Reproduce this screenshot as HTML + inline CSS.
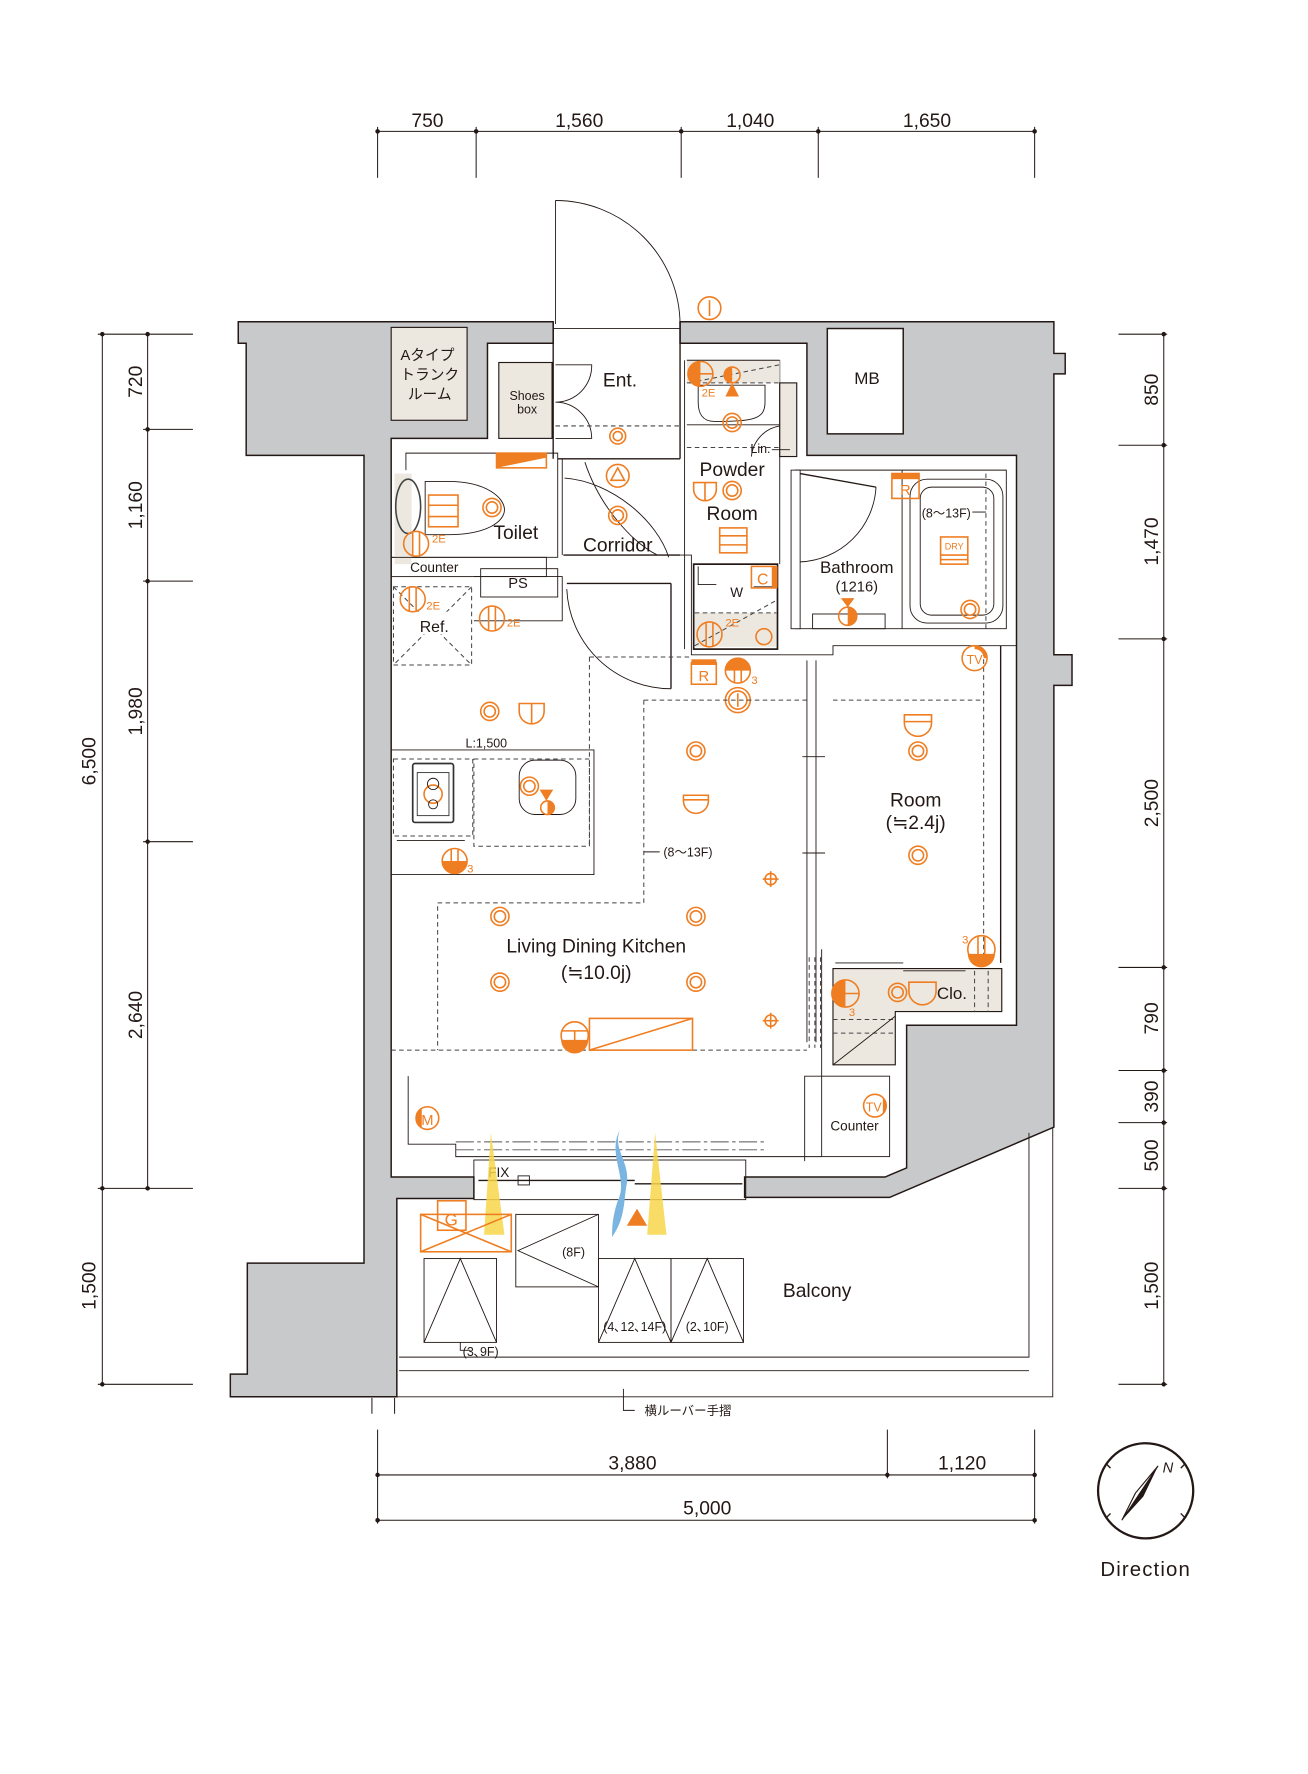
<!DOCTYPE html>
<html><head><meta charset="utf-8"><style>
html,body{margin:0;padding:0;background:#fff;}
svg{display:block;}
text{font-family:"Liberation Sans","Noto Sans CJK JP",sans-serif;fill:#231815;}
.o{fill:none;stroke:#ef7d22;stroke-width:1.4;}
.of{fill:#ef7d22;}
.ot{fill:#ef7d22;font-size:10px;}
.l{fill:none;stroke:#231815;stroke-width:1.2;}
.lt{fill:none;stroke:#231815;stroke-width:0.8;}
.d{fill:none;stroke:#444;stroke-width:0.9;stroke-dasharray:4 3;}
.g{fill:#c8c9ca;stroke:#231815;stroke-width:1.3;}
.b{fill:#ece8e0;stroke:#231815;stroke-width:1;}
</style></head><body>
<svg width="1308" height="1774" viewBox="0 0 1154 1566" xmlns="http://www.w3.org/2000/svg">
<g stroke="#231815" stroke-width="0.9" fill="none">
<line x1="333" y1="116" x2="913" y2="116"/>
<line x1="333" y1="112" x2="333" y2="157"/><line x1="420" y1="112" x2="420" y2="157"/>
<line x1="601" y1="112" x2="601" y2="157"/><line x1="722" y1="112" x2="722" y2="157"/>
<line x1="913" y1="112" x2="913" y2="157"/>
<line x1="90" y1="295" x2="90" y2="1222"/><line x1="130" y1="295" x2="130" y2="1049"/>
<line x1="86" y1="295" x2="170" y2="295"/><line x1="126" y1="379" x2="170" y2="379"/>
<line x1="126" y1="513" x2="170" y2="513"/><line x1="126" y1="743" x2="170" y2="743"/>
<line x1="86" y1="1049" x2="170" y2="1049"/><line x1="86" y1="1222" x2="170" y2="1222"/>
<line x1="1027" y1="295" x2="1027" y2="1222"/>
<line x1="987" y1="295" x2="1030" y2="295"/><line x1="987" y1="393" x2="1030" y2="393"/>
<line x1="987" y1="564" x2="1030" y2="564"/><line x1="987" y1="854" x2="1030" y2="854"/>
<line x1="987" y1="945" x2="1030" y2="945"/><line x1="987" y1="991" x2="1030" y2="991"/>
<line x1="987" y1="1049" x2="1030" y2="1049"/><line x1="987" y1="1222" x2="1030" y2="1222"/>
<line x1="333" y1="1302" x2="913" y2="1302"/><line x1="333" y1="1342" x2="913" y2="1342"/>
<line x1="333" y1="1262" x2="333" y2="1345"/><line x1="783" y1="1262" x2="783" y2="1305"/>
<line x1="913" y1="1262" x2="913" y2="1345"/>
<line x1="328" y1="1234" x2="328" y2="1248"/><line x1="348" y1="1234" x2="348" y2="1248"/>
</g>
<g fill="#231815">
<circle cx="333" cy="116" r="2"/><circle cx="420" cy="116" r="2"/><circle cx="601" cy="116" r="2"/><circle cx="722" cy="116" r="2"/><circle cx="913" cy="116" r="2"/>
<circle cx="90" cy="295" r="2"/><circle cx="90" cy="1049" r="2"/><circle cx="90" cy="1222" r="2"/>
<circle cx="130" cy="295" r="2"/><circle cx="130" cy="379" r="2"/><circle cx="130" cy="513" r="2"/><circle cx="130" cy="743" r="2"/><circle cx="130" cy="1049" r="2"/>
<circle cx="1027" cy="295" r="2"/><circle cx="1027" cy="393" r="2"/><circle cx="1027" cy="564" r="2"/><circle cx="1027" cy="854" r="2"/><circle cx="1027" cy="945" r="2"/><circle cx="1027" cy="991" r="2"/><circle cx="1027" cy="1049" r="2"/><circle cx="1027" cy="1222" r="2"/>
<circle cx="333" cy="1302" r="2"/><circle cx="783" cy="1302" r="2"/><circle cx="913" cy="1302" r="2"/><circle cx="333" cy="1342" r="2"/><circle cx="913" cy="1342" r="2"/>
</g>
<g font-size="17" text-anchor="middle">
<text x="377" y="112">750</text><text x="511" y="112">1,560</text><text x="662" y="112">1,040</text><text x="818" y="112">1,650</text>
<text x="558" y="1297">3,880</text><text x="849" y="1297">1,120</text><text x="624" y="1337">5,000</text>
<text transform="translate(84,672) rotate(-90)">6,500</text>
<text transform="translate(84,1135) rotate(-90)">1,500</text>
<text transform="translate(125,337) rotate(-90)">720</text>
<text transform="translate(125,446) rotate(-90)">1,160</text>
<text transform="translate(125,628) rotate(-90)">1,980</text>
<text transform="translate(125,896) rotate(-90)">2,640</text>
<text transform="translate(1022,344) rotate(-90)">850</text>
<text transform="translate(1022,478) rotate(-90)">1,470</text>
<text transform="translate(1022,709) rotate(-90)">2,500</text>
<text transform="translate(1022,899) rotate(-90)">790</text>
<text transform="translate(1022,968) rotate(-90)">390</text>
<text transform="translate(1022,1020) rotate(-90)">500</text>
<text transform="translate(1022,1135) rotate(-90)">1,500</text>
</g>

<!-- walls -->
<path class="g" d="M210,284 H488 V303 H430 V387 H345 V1039 H418 V1058 H350 V1233 H203 V1213 H218 V1115 H321 V402 H217 V303 H210 Z"/>
<path class="g" d="M600,284 H930 V312 H940 V330 H930 V578 H946 V605 H930 V995 L785,1057 H657 V1039 H781 L800,1031 V905 H897 V402 H712 V303 H600 Z"/>
<rect x="345" y="289" width="67" height="82" class="b"/>
<text x="377" y="318" font-size="13" text-anchor="middle">Aタイプ</text>
<text x="379" y="335" font-size="13" text-anchor="middle">トランク</text>
<text x="379" y="352" font-size="13" text-anchor="middle">ルーム</text>
<rect x="730" y="290" width="67" height="93" fill="#fff" stroke="#231815" stroke-width="1.3"/>
<text x="765" y="339" font-size="15" text-anchor="middle">MB</text>

<!-- Entrance -->
<line class="l" x1="488" y1="284" x2="488" y2="405"/><line class="l" x1="600" y1="284" x2="600" y2="405"/>
<line class="lt" x1="490" y1="177" x2="490" y2="286"/>
<path class="lt" d="M490,177 A110,110 0 0 1 600,287"/>
<line class="lt" x1="488" y1="290" x2="600" y2="290"/>
<rect x="440" y="320" width="47" height="67" class="b"/>
<text x="465" y="353" font-size="11" text-anchor="middle">Shoes</text>
<text x="465" y="365" font-size="11" text-anchor="middle">box</text>
<path class="lt" d="M490,322 H522 A32,32 0 0 1 490,355 M490,355 A32,32 0 0 1 522,387 H490"/>
<line class="d" x1="490" y1="376" x2="600" y2="376"/>
<text x="547" y="341" font-size="17" text-anchor="middle">Ent.</text>
<circle class="o" cx="545" cy="385" r="7"/><circle class="o" cx="545" cy="385" r="4"/>
<circle class="o" cx="626" cy="272" r="10"/><line class="o" x1="626" y1="265" x2="626" y2="279"/>

<!-- Toilet area -->
<path class="lt" d="M358,415 V400 H492 V492 H345"/>
<rect x="438" y="400" width="44" height="13" class="o"/><path class="of" d="M438,413 L482,404 V400 H438 Z"/>
<rect x="348" y="418" width="15" height="80" fill="#ece8e0"/>
<ellipse cx="360" cy="447" rx="11" ry="24" fill="none" stroke="#444" stroke-width="1.4"/>
<path class="lt" d="M375,425 H395 C430,425 445,440 445,450 C445,460 430,472 395,472 H375 Z"/>
<rect x="378" y="437" width="26" height="28" class="o"/><line class="o" x1="378" y1="446" x2="404" y2="446"/><line class="o" x1="378" y1="456" x2="404" y2="456"/>
<circle class="o" cx="434" cy="448" r="8"/><circle class="o" cx="434" cy="448" r="5"/>
<circle class="o" cx="367" cy="480" r="11"/><line class="o" x1="364" y1="470" x2="364" y2="490"/><line class="o" x1="370" y1="470" x2="370" y2="490"/>
<text x="381" y="479" class="ot">2E</text>
<text x="455" y="476" font-size="17" text-anchor="middle">Toilet</text>
<rect x="345" y="492" width="137" height="17" class="lt"/>
<text x="383" y="505" font-size="12" text-anchor="middle">Counter</text>
<path class="lt" d="M418,509 H496 V548 H418"/>
<rect x="424" y="502" width="68" height="25" class="lt"/>
<text x="457" y="519" font-size="13" text-anchor="middle">PS</text>
<rect x="347" y="518" width="69" height="69" class="d"/>
<line class="d" x1="347" y1="518" x2="416" y2="587"/><line class="d" x1="416" y1="518" x2="347" y2="587"/>
<rect x="349" y="540" width="66" height="20" fill="#fff"/>
<text x="383" y="558" font-size="14" text-anchor="middle">Ref.</text>
<circle class="o" cx="364" cy="529" r="11"/><line class="o" x1="361" y1="519" x2="361" y2="539"/><line class="o" x1="367" y1="519" x2="367" y2="539"/>
<text x="376" y="538" class="ot">2E</text>
<circle class="o" cx="434" cy="546" r="11"/><line class="o" x1="431" y1="536" x2="431" y2="556"/><line class="o" x1="437" y1="536" x2="437" y2="556"/>
<text x="447" y="553" class="ot">2E</text>

<!-- Corridor -->
<line class="l" x1="492" y1="405" x2="600" y2="405"/>
<line class="lt" x1="496" y1="405" x2="496" y2="490"/>
<path class="lt" d="M516,408 C530,450 560,480 580,490 M498,422 C540,425 580,460 590,492"/>
<line class="l" x1="497" y1="490" x2="600" y2="490"/>
<line class="l" x1="500" y1="515" x2="592" y2="515"/>
<line class="l" x1="592" y1="515" x2="592" y2="608"/>
<path class="lt" d="M500,520 A92,92 0 0 0 592,608"/>
<text x="545" y="487" font-size="17" text-anchor="middle">Corridor</text>
<circle class="o" cx="545" cy="420" r="10"/><path class="o" d="M545,413 L551,424 H539 Z"/>
<circle class="o" cx="545" cy="455" r="8"/><circle class="o" cx="545" cy="455" r="5"/>

<!-- Powder room -->
<path class="lt" d="M604,318 V573 M688,318 V498"/>
<rect x="606" y="318" width="82" height="20" fill="#ece8e0"/>
<path class="lt" d="M606,318 H688 M606,375 H688"/>
<line class="d" x1="606" y1="338" x2="688" y2="338"/>
<line class="d" x1="608" y1="338" x2="688" y2="322"/>
<path class="lt" d="M616,340 H675 V355 C675,370 665,372 630,372 C620,372 616,365 616,355 Z"/>
<rect x="688" y="338" width="15" height="65" class="b"/>
<circle class="o" cx="618" cy="330" r="11"/><path class="of" d="M607,330 A11,11 0 0 1 618,319 V341 A11,11 0 0 1 607,330Z"/><line class="o" x1="608" y1="330" x2="629" y2="330"/>
<circle class="o" cx="646" cy="331" r="7"/><path class="of" d="M646,324 A7,7 0 0 0 646,338Z"/>
<path class="of" d="M646,338 L652,350 H640 Z"/>
<text x="619" y="350" class="ot">2E</text>
<circle class="o" cx="646" cy="373" r="8"/><circle class="o" cx="646" cy="373" r="5"/>
<line class="d" x1="606" y1="395" x2="688" y2="395"/>
<path class="lt" d="M688,376 A30,30 0 0 0 663,403"/>
<text x="671" y="400" font-size="11" text-anchor="middle">Lin.</text>
<line class="lt" x1="681" y1="397" x2="697" y2="397"/>
<text x="646" y="420" font-size="17" text-anchor="middle">Powder</text>
<text x="646" y="459" font-size="17" text-anchor="middle">Room</text>
<path class="o" d="M612,426 H632 V432 A10,10 0 0 1 612,432 Z M622,426 V442"/>
<circle class="o" cx="646" cy="433" r="8"/><circle class="o" cx="646" cy="433" r="5"/>
<rect x="635" y="466" width="24" height="22" class="o"/><line class="o" x1="635" y1="473" x2="659" y2="473"/><line class="o" x1="635" y1="481" x2="659" y2="481"/>
<rect x="612" y="498" width="74" height="75" fill="#fff" stroke="#231815" stroke-width="1.5"/>
<rect x="613" y="541" width="72" height="30" fill="#ece8e0"/>
<line class="d" x1="613" y1="541" x2="685" y2="541"/><line class="d" x1="613" y1="570" x2="685" y2="530"/>
<path class="lt" d="M616,500 V516 H632 M683,500 V518 H665"/>
<text x="650" y="527" font-size="12" text-anchor="middle">W</text>
<rect x="663" y="500" width="21" height="19" class="o"/><rect x="681" y="500" width="5" height="19" class="of"/>
<text x="673" y="516" font-size="14" text-anchor="middle" style="fill:#ef7d22">C</text>
<text x="640" y="553" class="ot">2E</text>
<circle class="o" cx="626" cy="560" r="11"/><line class="o" x1="623" y1="549" x2="623" y2="571"/><line class="o" x1="629" y1="549" x2="629" y2="571"/>
<circle class="o" cx="674" cy="562" r="7"/>
<path class="lt" d="M600,490 H610 V578 H735 V570 H897"/>
<rect x="610" y="585" width="22" height="19" class="o"/><rect x="610" y="582" width="22" height="5" class="of"/>
<text x="621" y="601" font-size="13" text-anchor="middle" style="fill:#ef7d22">R</text>
<circle class="o" cx="651" cy="592" r="11"/><path class="of" d="M640,592 A11,11 0 0 1 662,592Z"/><line class="o" x1="648" y1="582" x2="648" y2="602"/><line class="o" x1="654" y1="582" x2="654" y2="602"/>
<text x="663" y="604" class="ot">3</text>
<circle class="o" cx="651" cy="618" r="11"/><circle class="o" cx="651" cy="618" r="8"/><line class="o" x1="651" y1="612" x2="651" y2="624"/>

<!-- Bathroom -->
<path class="lt" d="M702,415 H888 V555 H702 Z M796,415 V555"/>
<rect x="698" y="415" width="8" height="140" fill="#fff" stroke="#231815" stroke-width="0.8"/>
<path class="l" d="M706,418 L773,430"/>
<path class="lt" d="M773,430 A70,70 0 0 1 706,496"/>
<rect x="803" y="423" width="82" height="127" rx="15" class="lt"/>
<rect x="812" y="430" width="65" height="113" rx="10" class="lt"/>
<line x1="870" y1="418" x2="870" y2="555" class="d"/>
<text x="835" y="457" font-size="11" text-anchor="middle">(8～13F)</text>
<line class="lt" x1="858" y1="452" x2="870" y2="452"/>
<rect x="830" y="474" width="24" height="24" class="o"/>
<text x="842" y="485" font-size="8" text-anchor="middle" style="fill:#ef7d22">DRY</text>
<line class="o" x1="830" y1="490" x2="854" y2="490"/><line class="o" x1="830" y1="494" x2="854" y2="494"/>
<circle class="o" cx="856" cy="538" r="8"/><circle class="o" cx="856" cy="538" r="5"/>
<rect x="787" y="418" width="24" height="22" class="o"/><rect x="787" y="418" width="24" height="5" class="of"/>
<text x="799" y="437" font-size="13" text-anchor="middle" style="fill:#ef7d22">R</text>
<text x="756" y="506" font-size="15" text-anchor="middle">Bathroom</text>
<text x="756" y="522" font-size="13" text-anchor="middle">(1216)</text>
<rect x="717" y="542" width="64" height="13" class="lt"/>
<circle class="o" cx="748" cy="544" r="8"/><path class="of" d="M748,536 A8,8 0 0 1 748,552Z"/><path class="of" d="M742,528 H754 L748,536Z"/>

<!-- LDK/Room partition -->
<path class="lt" d="M712,583 V920 M720,583 V920"/>
<line class="lt" x1="708" y1="668" x2="728" y2="668"/><line class="lt" x1="708" y1="753" x2="728" y2="753"/>
<path class="d" d="M520,580 H610 M568,618 H712 M735,618 H868 M568,618 V797 H386 V927 M520,580 V747"/>
<line class="d" x1="345" y1="927" x2="712" y2="927"/>
<line class="d" x1="868" y1="575" x2="868" y2="848"/>
<line class="l" x1="883" y1="570" x2="883" y2="850"/>
<!-- kitchen -->
<path class="lt" d="M345,662 H524 V772 H345"/>
<text x="429" y="660" font-size="11" text-anchor="middle">L:1,500</text>
<rect x="347" y="670" width="70" height="68" class="d"/>
<rect x="418" y="670" width="102" height="77" class="d"/>
<rect x="364" y="674" width="36" height="52" rx="2" fill="#fff" stroke="#333" stroke-width="1.5"/>
<rect x="368" y="682" width="28" height="38" fill="none" stroke="#333" stroke-width="0.8"/>
<circle class="o" cx="382" cy="701" r="8"/><circle cx="382" cy="692" r="5" class="lt"/><circle cx="382" cy="710" r="4" class="lt"/>
<path class="lt" d="M350,742 H410"/>
<rect x="458" y="671" width="50" height="48" rx="14" class="lt"/>
<circle class="o" cx="467" cy="694" r="8"/><circle class="o" cx="467" cy="694" r="5"/>
<path class="of" d="M476,697 H488 L482,707Z"/>
<circle class="o" cx="483" cy="713" r="6"/><path class="of" d="M483,707 A6,6 0 0 1 483,719Z"/>
<circle class="o" cx="401" cy="760" r="11"/><path class="of" d="M390,760 A11,11 0 0 0 412,760 Z"/><line class="o" x1="398" y1="750" x2="398" y2="770"/><line class="o" x1="404" y1="750" x2="404" y2="770"/>
<text x="412" y="770" class="ot">3</text>
<circle class="o" cx="432" cy="628" r="8"/><circle class="o" cx="432" cy="628" r="5"/>
<path class="o" d="M458,621 H480 V628 A11,11 0 0 1 458,628 Z M469,621 V639"/>
<circle class="o" cx="614" cy="663" r="8"/><circle class="o" cx="614" cy="663" r="5"/>
<path class="o" d="M603,702 H625 V707 A11,11 0 0 1 603,707 Z M603,706 H625"/>
<text x="607" y="756" font-size="11" text-anchor="middle">(8～13F)</text>
<line class="lt" x1="568" y1="752" x2="582" y2="752"/>
<g class="o"><circle cx="680" cy="776" r="5"/><line x1="673" y1="776" x2="687" y2="776"/><line x1="680" y1="769" x2="680" y2="783"/>
<circle cx="680" cy="901" r="5"/><line x1="673" y1="901" x2="687" y2="901"/><line x1="680" y1="894" x2="680" y2="908"/></g>
<circle class="o" cx="441" cy="809" r="8"/><circle class="o" cx="441" cy="809" r="5"/>
<circle class="o" cx="614" cy="809" r="8"/><circle class="o" cx="614" cy="809" r="5"/>
<circle class="o" cx="441" cy="867" r="8"/><circle class="o" cx="441" cy="867" r="5"/>
<circle class="o" cx="614" cy="867" r="8"/><circle class="o" cx="614" cy="867" r="5"/>
<text x="526" y="841" font-size="17" text-anchor="middle">Living Dining Kitchen</text>
<text x="526" y="864" font-size="17" text-anchor="middle">(≒10.0j)</text>
<circle class="o" cx="507" cy="914" r="12"/><path class="of" d="M495,918 H519 A12,12 0 0 1 495,918Z"/><path class="o" d="M496,910 H518 M507,910 V926"/>
<rect x="520" y="899" width="91" height="28" class="o"/><line class="o" x1="520" y1="927" x2="611" y2="899"/>
<!-- Room -->
<path class="o" d="M798,631 H822 V638 A12,12 0 0 1 798,638 Z M798,637 H822"/>
<circle class="o" cx="810" cy="663" r="8"/><circle class="o" cx="810" cy="663" r="5"/>
<circle class="o" cx="810" cy="755" r="8"/><circle class="o" cx="810" cy="755" r="5"/>
<text x="808" y="712" font-size="17" text-anchor="middle">Room</text>
<text x="808" y="732" font-size="17" text-anchor="middle">(≒2.4j)</text>
<circle class="o" cx="860" cy="581" r="11"/><path class="of" d="M860,570 A11,11 0 0 1 871,581 H868 A8,8 0 0 0 860,573Z"/>
<text x="860" y="586" font-size="11" text-anchor="middle" style="fill:#ef7d22">TV</text>
<circle class="o" cx="866" cy="838" r="12"/><path class="of" d="M854,842 H878 A12,12 0 0 1 854,842Z"/><line class="o" x1="863" y1="826" x2="863" y2="850"/><line class="o" x1="869" y1="826" x2="869" y2="850"/>
<text x="849" y="833" class="ot">3</text>
<!-- Clo -->
<path d="M735,855 H884 V893 H790 V940 H735 Z" fill="#ece8e0" stroke="#231815" stroke-width="1"/>
<path class="lt" d="M737,850 H797 M797,857 H852"/>
<line class="d" x1="735" y1="900" x2="790" y2="900"/><line class="d" x1="735" y1="912" x2="790" y2="912"/>
<line class="lt" x1="735" y1="940" x2="790" y2="897"/>
<line class="d" x1="860" y1="857" x2="860" y2="893"/><line class="d" x1="872" y1="857" x2="872" y2="893"/>
<text x="840" y="882" font-size="15" text-anchor="middle">Clo.</text>
<circle class="o" cx="746" cy="877" r="12"/><path class="of" d="M734,877 A12,12 0 0 1 746,865 V889 A12,12 0 0 1 734,877Z"/><line class="o" x1="736" y1="877" x2="758" y2="877"/>
<text x="749" y="897" class="ot">3</text>
<circle class="o" cx="792" cy="876" r="8"/><circle class="o" cx="792" cy="876" r="5"/>
<path class="o" d="M802,867 H826 V875 A12,12 0 0 1 802,875 Z"/>
<path class="d" d="M714,845 V925 M719,845 V925 M724,845 V925" stroke-dasharray="3 2"/>
<path class="lt" d="M725,838 V950 H710 V1025"/>
<rect x="725" y="950" width="60" height="71" class="lt"/>
<text x="754" y="998" font-size="12" text-anchor="middle">Counter</text>
<circle class="o" cx="772" cy="976" r="10"/><path class="of" d="M779,969 A10,10 0 0 1 779,983Z"/>
<text x="771" y="981" font-size="11" text-anchor="middle" style="fill:#ef7d22">TV</text>
<!-- LDK bottom / window -->
<path class="lt" d="M360,950 V1010 H402 V1021 H725"/>
<circle class="o" cx="377" cy="987" r="10"/><path class="of" d="M372,978 A10,10 0 0 0 372,996Z"/>
<text x="377" y="993" font-size="13" text-anchor="middle" style="fill:#ef7d22">M</text>
<path d="M402,1008 H675 M402,1015 H675" stroke="#555" stroke-width="0.8" stroke-dasharray="16 3 3 3"/>
<rect x="418" y="1024" width="240" height="35" class="lt"/>
<line class="l" x1="422" y1="1042" x2="560" y2="1042"/><line class="l" x1="560" y1="1045" x2="655" y2="1045"/>
<rect x="457" y="1038" width="10" height="8" class="lt"/>
<text x="440" y="1039" font-size="12" text-anchor="middle">FIX</text>
<!-- balcony -->
<path class="lt" d="M350,1058 V1233 H929 V995 M908,1000 V1198 H352 M352,1210 H908"/>
<path d="M433,1000 L427,1090 H445 Z" fill="#f7d64a" opacity="0.85"/>
<path d="M578,1000 L571,1090 H588 Z" fill="#f7d64a" opacity="0.85"/>
<path d="M547,997 C535,1020 555,1040 545,1060 C540,1075 540,1085 540,1092 C552,1075 550,1060 553,1045 C556,1025 540,1015 547,997Z" fill="#7ab4e0"/>
<path class="of" d="M562,1067 L571,1082 H553 Z"/>
<rect x="371" y="1072" width="80" height="33" class="o"/><line class="o" x1="371" y1="1072" x2="451" y2="1105"/><line class="o" x1="451" y1="1072" x2="371" y2="1105"/>
<rect x="386" y="1060" width="25" height="26" class="o"/>
<text x="398" y="1082" font-size="15" text-anchor="middle" style="fill:#ef7d22">G</text>
<rect x="374" y="1111" width="64" height="74" class="lt"/><path class="lt" d="M374,1185 L406,1111 L438,1185"/>
<path class="lt" d="M406,1185 V1192 H415"/><text x="424" y="1197" font-size="11" text-anchor="middle">(3､9F)</text>
<rect x="455" y="1072" width="73" height="64" class="lt"/><path class="lt" d="M528,1072 L457,1104 L528,1136"/>
<text x="506" y="1109" font-size="11" text-anchor="middle">(8F)</text>
<rect x="528" y="1111" width="64" height="74" class="lt"/><path class="lt" d="M528,1185 L560,1111 L592,1185"/>
<rect x="592" y="1111" width="64" height="74" class="lt"/><path class="lt" d="M592,1185 L624,1111 L656,1185"/>
<text x="560" y="1175" font-size="11" text-anchor="middle">(4､12､14F)</text>
<text x="624" y="1175" font-size="11" text-anchor="middle">(2､10F)</text>
<text x="721" y="1145" font-size="17" text-anchor="middle">Balcony</text>
<path class="lt" d="M550,1226 V1245 H560"/>
<text x="607" y="1249" font-size="11" text-anchor="middle">横ルーバー手摺</text>
<!-- compass -->
<circle cx="1011" cy="1316" r="42" fill="none" stroke="#231815" stroke-width="2"/>
<polygon points="1022,1294 990,1342 1009,1321" fill="#231815"/>
<polygon points="1022,1294 990,1342 1002,1318" fill="none" stroke="#231815" stroke-width="1"/>
<g stroke="#231815" stroke-width="1.2"><line x1="976" y1="1292" x2="980" y2="1296"/><line x1="1046" y1="1292" x2="1042" y2="1296"/><line x1="976" y1="1340" x2="980" y2="1336"/><line x1="1046" y1="1340" x2="1042" y2="1336"/></g>
<text x="1026" y="1300" font-size="13" font-style="italic">N</text>
<text x="1011" y="1391" font-size="18" text-anchor="middle" letter-spacing="1">Direction</text>
</svg>
</body></html>
